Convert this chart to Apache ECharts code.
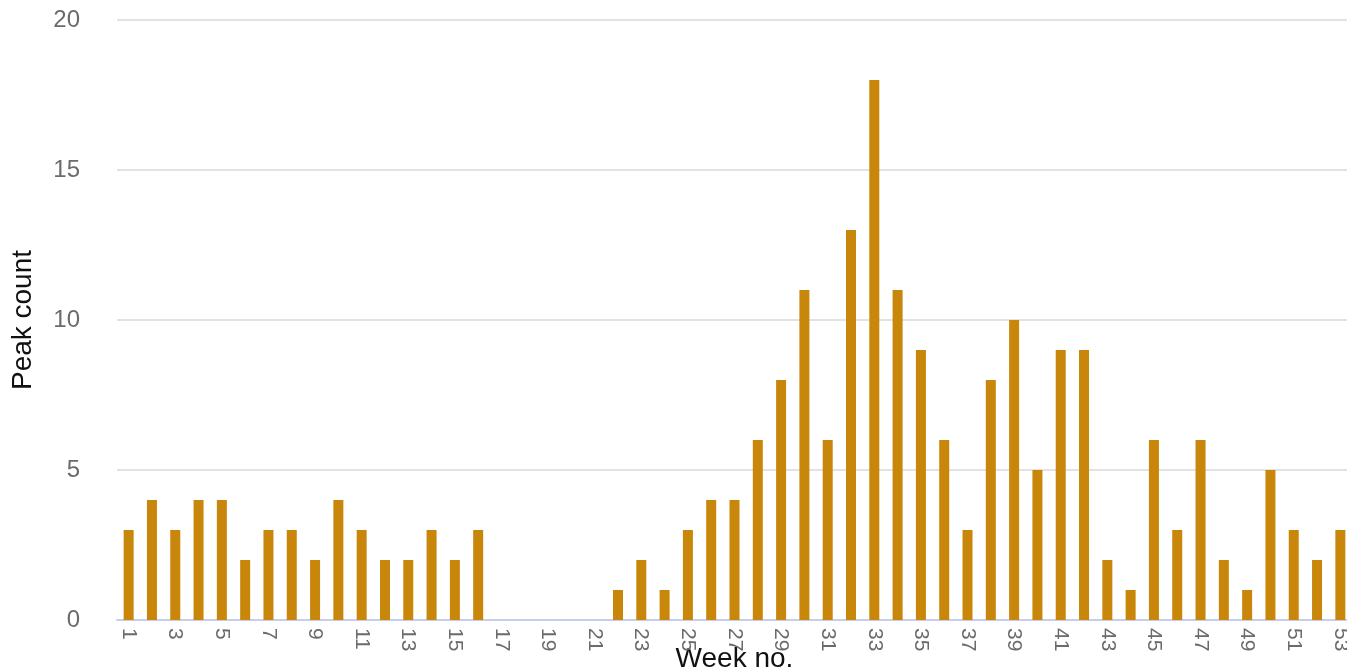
<!DOCTYPE html>
<html>
<head>
<meta charset="utf-8">
<script src="https://cdn.jsdelivr.net/npm/echarts@6/dist/echarts.min.js"></script>
<style>
html,body{margin:0;padding:0;background:#fff;}
#chart{width:1347px;height:670px;}
</style>
</head>
<body>
<div id="chart"></div>
<script>
const weeks = [];
for (let i = 1; i <= 53; i++) weeks.push(String(i));
const peakCounts = [3,4,3,4,4,2,3,3,2,4,3,2,2,3,2,3,0,0,0,0,0,1,2,1,3,4,4,6,8,11,6,13,18,11,9,6,3,8,10,5,9,9,2,1,6,3,6,2,1,5,3,2,3];
const yTicks = {min: 0, max: 20, interval: 5};

const chart = echarts.init(document.getElementById('chart'), null, {renderer: 'canvas'});
chart.setOption({
  animation: false,
  backgroundColor: '#ffffff',
  grid: {left: 117, top: 20, width: 1235, height: 600, containLabel: false, outerBoundsMode: 'none'},
  xAxis: {
    type: 'category',
    data: weeks,
    name: 'Week no.',
    nameLocation: 'middle',
    nameGap: 25,
    nameMoveOverlap: false,
    nameTextStyle: {color: '#111', fontSize: 28, fontFamily: 'Liberation Sans, Arial, sans-serif'},
    axisLine: {show: true, lineStyle: {color: '#c5cdf0', width: 2}},
    axisTick: {show: false},
    axisLabel: {
      interval: 1,
      rotate: -90,
      margin: 8,
      color: '#6b6b6b',
      fontSize: 21,
      fontFamily: 'Liberation Sans, Arial, sans-serif'
    },
    splitLine: {show: false}
  },
  yAxis: {
    type: 'value',
    min: yTicks.min,
    max: yTicks.max,
    interval: yTicks.interval,
    name: 'Peak count',
    nameLocation: 'middle',
    nameGap: 80,
    nameRotate: 90,
    nameMoveOverlap: false,
    nameTextStyle: {color: '#111', fontSize: 28, fontFamily: 'Liberation Sans, Arial, sans-serif'},
    axisLine: {show: false},
    axisTick: {show: false},
    axisLabel: {margin: 37, color: '#6b6b6b', fontSize: 24, fontFamily: 'Liberation Sans, Arial, sans-serif'},
    splitLine: {show: true, lineStyle: {color: '#e2e2e2', width: 2}}
  },
  series: [{
    type: 'bar',
    data: peakCounts,
    barWidth: 10,
    itemStyle: {color: '#c8860a'}
  }]
});
</script>
</body>
</html>
